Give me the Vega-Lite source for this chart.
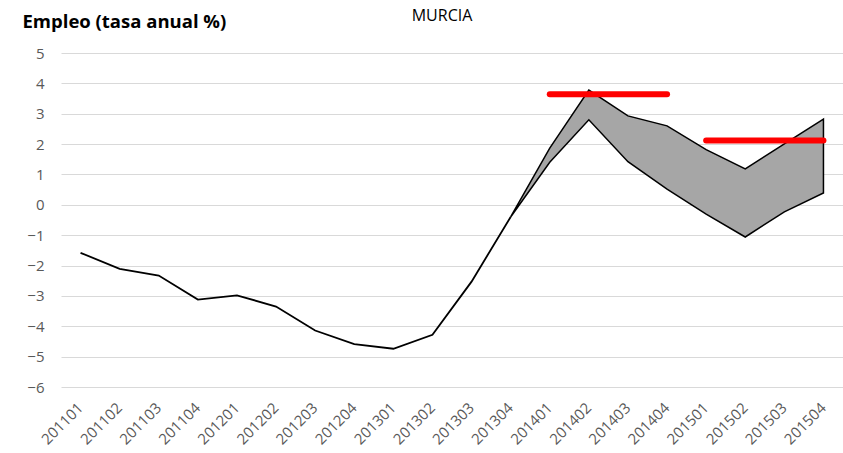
{
  "$schema": "https://vega.github.io/schema/vega-lite/v6.json",
  "width": 782,
  "height": 334,
  "autosize": "none",
  "padding": {"left": 61, "top": 53, "right": 0, "bottom": 66},
  "background": "white",
  "config": {"view": {"stroke": null}, "font": "Open Sans"},
  "title": {"text": "MURCIA", "anchor": "middle", "font": "Open Sans", "fontSize": 16, "fontWeight": "normal", "color": "#000000", "dx": -10, "offset": 0, "dy": 12},
  "datasets": {
    "periodos": [
      {"p": "201101"}, {"p": "201102"}, {"p": "201103"}, {"p": "201104"}, {"p": "201201"}, {"p": "201202"}, {"p": "201203"}, {"p": "201204"},
      {"p": "201301"}, {"p": "201302"}, {"p": "201303"}, {"p": "201304"}, {"p": "201401"}, {"p": "201402"}, {"p": "201403"}, {"p": "201404"},
      {"p": "201501"}, {"p": "201502"}, {"p": "201503"}, {"p": "201504"}
    ],
    "serie": [
      {"p": "201101", "v": -1.58}, {"p": "201102", "v": -2.11}, {"p": "201103", "v": -2.33}, {"p": "201104", "v": -3.12},
      {"p": "201201", "v": -2.98}, {"p": "201202", "v": -3.35}, {"p": "201203", "v": -4.14}, {"p": "201204", "v": -4.59},
      {"p": "201301", "v": -4.74}, {"p": "201302", "v": -4.28}, {"p": "201303", "v": -2.53}, {"p": "201304", "v": -0.4}
    ],
    "banda": [
      {"p": "201304", "lo": -0.4, "v": -0.4}, {"p": "201401", "lo": 1.40, "v": 1.87}, {"p": "201402", "lo": 2.80, "v": 3.78},
      {"p": "201403", "lo": 1.42, "v": 2.93}, {"p": "201404", "lo": 0.52, "v": 2.60}, {"p": "201501", "lo": -0.31, "v": 1.82},
      {"p": "201502", "lo": -1.06, "v": 1.18}, {"p": "201503", "lo": -0.23, "v": 2.01}, {"p": "201504", "lo": 0.39, "v": 2.82}
    ],
    "objetivo": [
      {"a": "201401", "b": "201404", "v": 3.64},
      {"a": "201501", "b": "201504", "v": 2.12}
    ]
  },
  "encoding": {
    "x": {"field": "p", "type": "ordinal", "bandPosition": 0.5,
      "scale": {"type": "band", "paddingInner": 0, "paddingOuter": 0, "domain": ["201101","201102","201103","201104","201201","201202","201203","201204","201301","201302","201303","201304","201401","201402","201403","201404","201501","201502","201503","201504"]},
      "axis": {"title": null, "labelAngle": -45, "labelAlign": "right", "labelBaseline": "middle", "ticks": false, "domain": false, "grid": false, "labelFontSize": 15, "labelColor": "#595959", "labelPadding": 18, "labelFont": "Open Sans", "labelOverlap": false}},
    "y": {"field": "v", "type": "quantitative",
      "scale": {"domain": [-6, 5], "nice": false, "zero": false},
      "axis": {"values": [-6,-5,-4,-3,-2,-1,0,1,2,3,4,5], "tickCount": 24, "format": "d", "labelOverlap": false, "grid": true, "gridColor": "#d9d9d9", "gridWidth": 1, "domain": false, "ticks": false, "labelPadding": 17, "labelFontSize": 15, "labelColor": "#595959", "labelFont": "Open Sans", "labelBound": false,
        "title": "Empleo (tasa anual %)", "titleAngle": 0, "titleAlign": "left", "titleBaseline": "alphabetic", "titleX": -39, "titleY": -26, "titleFontSize": 18.5, "titleFontWeight": "bold", "titleColor": "#000000", "titleFont": "Open Sans"}}
  },
  "layer": [
    {
      "data": {"name": "serie"},
      "mark": {"type": "line", "color": "#000000", "strokeWidth": 1.8}
    },
    {
      "data": {"name": "banda"},
      "mark": {"type": "area", "fill": "#a6a6a6", "stroke": "#000000", "strokeWidth": 1.5, "strokeJoin": "miter"},
      "encoding": {
        "y2": {"field": "lo"}
      }
    },
    {
      "data": {"name": "periodos"},
      "mark": {"type": "rule", "color": "#d9d9d9", "strokeWidth": 1},
      "encoding": {
        "x": {"field": "p", "type": "ordinal", "bandPosition": 0},
        "x2": {"field": "p", "bandPosition": 1},
        "y": {"datum": 0, "type": "quantitative"}
      }
    },
    {
      "data": {"name": "periodos"},
      "mark": {"type": "tick", "color": "#d9d9d9", "orient": "vertical", "size": 4, "thickness": 1, "yOffset": 2},
      "encoding": {
        "x": {"field": "p", "type": "ordinal", "bandPosition": 0},
        "y": {"datum": 0, "type": "quantitative"}
      }
    },
    {
      "data": {"name": "objetivo"},
      "mark": {"type": "rule", "color": "#ff0000", "strokeWidth": 6, "strokeCap": "round"},
      "encoding": {
        "x": {"field": "a", "type": "ordinal", "bandPosition": 0.5},
        "x2": {"field": "b", "bandPosition": 0.5}
      }
    }
  ]
}
